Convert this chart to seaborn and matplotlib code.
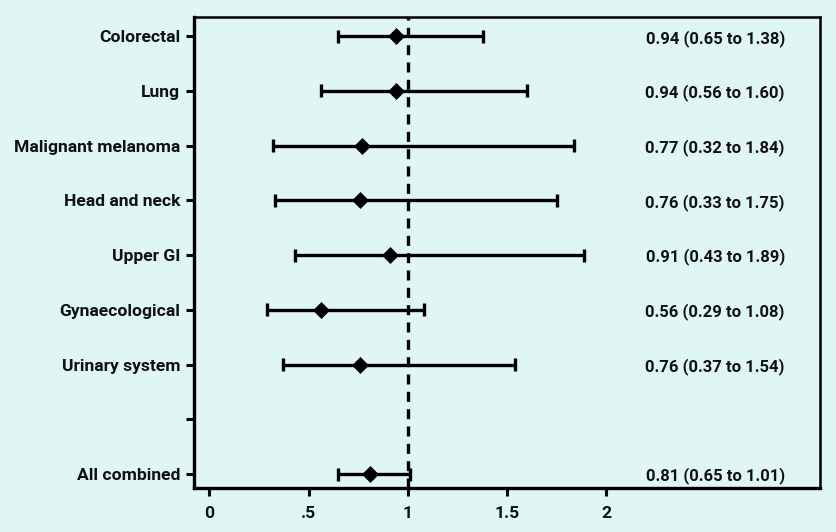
import matplotlib
matplotlib.use("Agg")
import matplotlib.pyplot as plt
import seaborn as sns
import numpy as np
import pandas as pd

# --- data ---
sites = ["Colorectal", "Lung", "Malignant melanoma", "Head and neck", "Upper GI",
         "Gynaecological", "Urinary system", "", "All combined"]
estimate = [0.94, 0.94, 0.77, 0.76, 0.91, 0.56, 0.76, np.nan, 0.81]
ci_low = [0.65, 0.56, 0.32, 0.33, 0.43, 0.29, 0.37, np.nan, 0.65]
ci_high = [1.38, 1.60, 1.84, 1.75, 1.89, 1.08, 1.54, np.nan, 1.01]
x_ticks = [0, 0.5, 1, 1.5, 2]
x_ticklabels = ["0", ".5", "1", "1.5", "2"]

BG = "#dff6f5"
sns.set_theme(style="ticks")
plt.rcParams["font.family"] = ["Roboto", "DejaVu Sans"]

df = pd.DataFrame({"site": sites, "est": estimate, "lo": ci_low, "hi": ci_high})
df["pos"] = np.arange(len(df))
shown = df.dropna()

fig, ax = plt.subplots(figsize=(8.37, 5.32), dpi=100)
fig.patch.set_facecolor(BG)
ax.set_facecolor(BG)

ax.hlines(shown["pos"], shown["lo"], shown["hi"], color="black", linewidth=2.4, zorder=2)
ax.vlines(shown["lo"], shown["pos"] - 0.12, shown["pos"] + 0.12, color="black", linewidth=2.4, zorder=2)
ax.vlines(shown["hi"], shown["pos"] - 0.12, shown["pos"] + 0.12, color="black", linewidth=2.4, zorder=2)
sns.scatterplot(data=shown, x="est", y="pos", marker="D", s=75, color="black",
                edgecolor="black", linewidth=0, ax=ax, zorder=3)
ax.axvline(1, color="black", linewidth=2.4, linestyle=(0, (3, 2.2)), zorder=1)

for _, r in shown.iterrows():
    ax.text(2.55, r["pos"], f"{r['est']:.2f} ({r['lo']:.2f} to {r['hi']:.2f})",
            ha="center", va="center_baseline", fontsize=12, fontweight="bold", color="#111111")

ax.set_xlim(-0.077, 3.08)
ax.set_ylim(len(sites) - 1 + 0.26, -0.35)
ax.set_yticks(df["pos"])
ax.set_yticklabels(sites)
ax.set_xticks(x_ticks)
ax.set_xticklabels(x_ticklabels)
ax.set_xlabel("")
ax.set_ylabel("")
for lab in ax.get_xticklabels() + ax.get_yticklabels():
    lab.set_fontweight("bold")
    lab.set_fontsize(12.6)
    lab.set_color("#111111")
ax.tick_params(axis="both", length=6, width=2.2, color="black", pad=4)
ax.tick_params(axis="x", pad=7)
for sp in ax.spines.values():
    sp.set_linewidth(2.4)
    sp.set_color("black")
ax.spines["top"].set_linewidth(1.8)
ax.spines["right"].set_linewidth(1.8)

fig.subplots_adjust(left=0.232, right=0.98, top=0.968, bottom=0.082)
fig.savefig("out.png", dpi=100, facecolor=BG)
